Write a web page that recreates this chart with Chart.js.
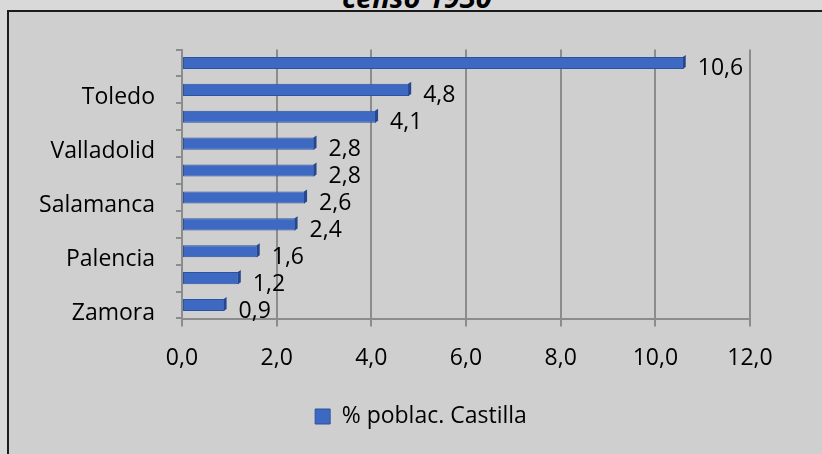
<!DOCTYPE html>
<html>
<head>
<meta charset="utf-8">
<script src="https://cdn.jsdelivr.net/npm/chart.js@4"></script>
<style>
  html, body { margin: 0; padding: 0; background: #d9d9d9; overflow: hidden; }
  #wrap { position: relative; width: 822px; height: 454px; }
  #box { position: absolute; left: 7px; top: 10px; width: 830px; height: 460px;
         background: #d0cfd0; border: 2px solid #1c1c1c; }
  #title { position: absolute; left: 342px; top: -17px; font: italic bold 29px "Open Sans";
           line-height: 28px; color: #000; white-space: nowrap; }
  canvas { position: absolute; left: 0; top: 0; }
</style>
</head>
<body>
<div id="wrap">
  <div id="box"></div>
  <div id="title">censo 1930</div>
  <canvas id="chart" width="822" height="454"></canvas>
</div>
<script>
// provincias (solo se ven las de índice impar)
const provincias = ['Madrid', 'Toledo', 'Ciudad Real', 'Valladolid', 'Burgos',
                    'Salamanca', 'León', 'Palencia', 'Segovia', 'Zamora'];
const porcentaje = [10.6, 4.8, 4.1, 2.8, 2.8, 2.6, 2.4, 1.6, 1.2, 0.9];
const serieNombre = '% poblac. Castilla';
const ejeX = { min: 0, max: 12, step: 2 };

const coma = v => Number(v).toFixed(1).replace('.', ',');
const FONT = { family: 'Open Sans', size: 23 };

// etiquetas de valor a la derecha de cada barra + "tapa" 3D
const valueLabels = {
    id: 'valueLabels',
    afterLayout(chart) {
        // centrar la leyenda en el cuadro entero, no sólo en el área con padding
        if (chart.legend) chart.legend.right = 842;
    },
    afterDatasetsDraw(chart) {
        const ctx = chart.ctx;
        const meta = chart.getDatasetMeta(0);
        ctx.save();
        meta.data.forEach((bar, i) => {
            const h = bar.height;
            ctx.fillStyle = '#24478f';
            ctx.beginPath();
            ctx.moveTo(bar.x - 1, bar.y - h / 2);
            ctx.lineTo(bar.x + 2, bar.y - h / 2 - 2);
            ctx.lineTo(bar.x + 2, bar.y + h / 2 - 2);
            ctx.lineTo(bar.x - 1, bar.y + h / 2);
            ctx.closePath();
            ctx.fill();
            ctx.fillStyle = '#000';
            ctx.font = FONT.size + 'px "' + FONT.family + '"';
            ctx.textAlign = 'left';
            ctx.textBaseline = 'middle';
            ctx.fillText(coma(porcentaje[i]), bar.x + 14, bar.y + 6);
        });
        ctx.restore();
    }
};

const ctx = document.getElementById('chart').getContext('2d');
new Chart(ctx, {
    type: 'bar',
    data: {
        labels: provincias,
        datasets: [{
            label: serieNombre,
            data: porcentaje,
            backgroundColor: '#3d69c3',
            borderColor: '#2d529f',
            borderWidth: 1,
            borderSkipped: false,
            barPercentage: 0.45,
            categoryPercentage: 1
        }]
    },
    options: {
        indexAxis: 'y',
        responsive: false,
        animation: false,
        layout: { padding: { left: 0, right: 72, top: 49.5, bottom: 16 } },
        plugins: {
            legend: {
                position: 'bottom',
                labels: {
                    color: '#000',
                    font: FONT,
                    boxWidth: 15,
                    boxHeight: 15,
                    padding: 10
                }
            },
            tooltip: { enabled: false }
        },
        scales: {
            x: {
                min: ejeX.min,
                max: ejeX.max,
                afterFit: s => { s.height = 76.5; },
                ticks: {
                    stepSize: ejeX.step,
                    color: '#000',
                    font: FONT,
                    padding: 18,
                    maxRotation: 0,
                    callback: v => coma(v)
                },
                grid: { color: '#8c8c8c', lineWidth: 2, tickLength: 8 },
                border: { color: '#8c8c8c', width: 2 }
            },
            y: {
                afterFit: s => { s.width = 182; },
                ticks: {
                    color: '#000',
                    font: FONT,
                    padding: 21,
                    labelOffset: 8,
                    autoSkip: false,
                    callback: (v, i) => (i % 2 === 1 ? provincias[i] : '')
                },
                grid: { color: '#8c8c8c', lineWidth: 2, tickLength: 6, drawOnChartArea: false, offset: true },
                border: { color: '#8c8c8c', width: 2 }
            }
        }
    },
    plugins: [valueLabels]
});
</script>
</body>
</html>
